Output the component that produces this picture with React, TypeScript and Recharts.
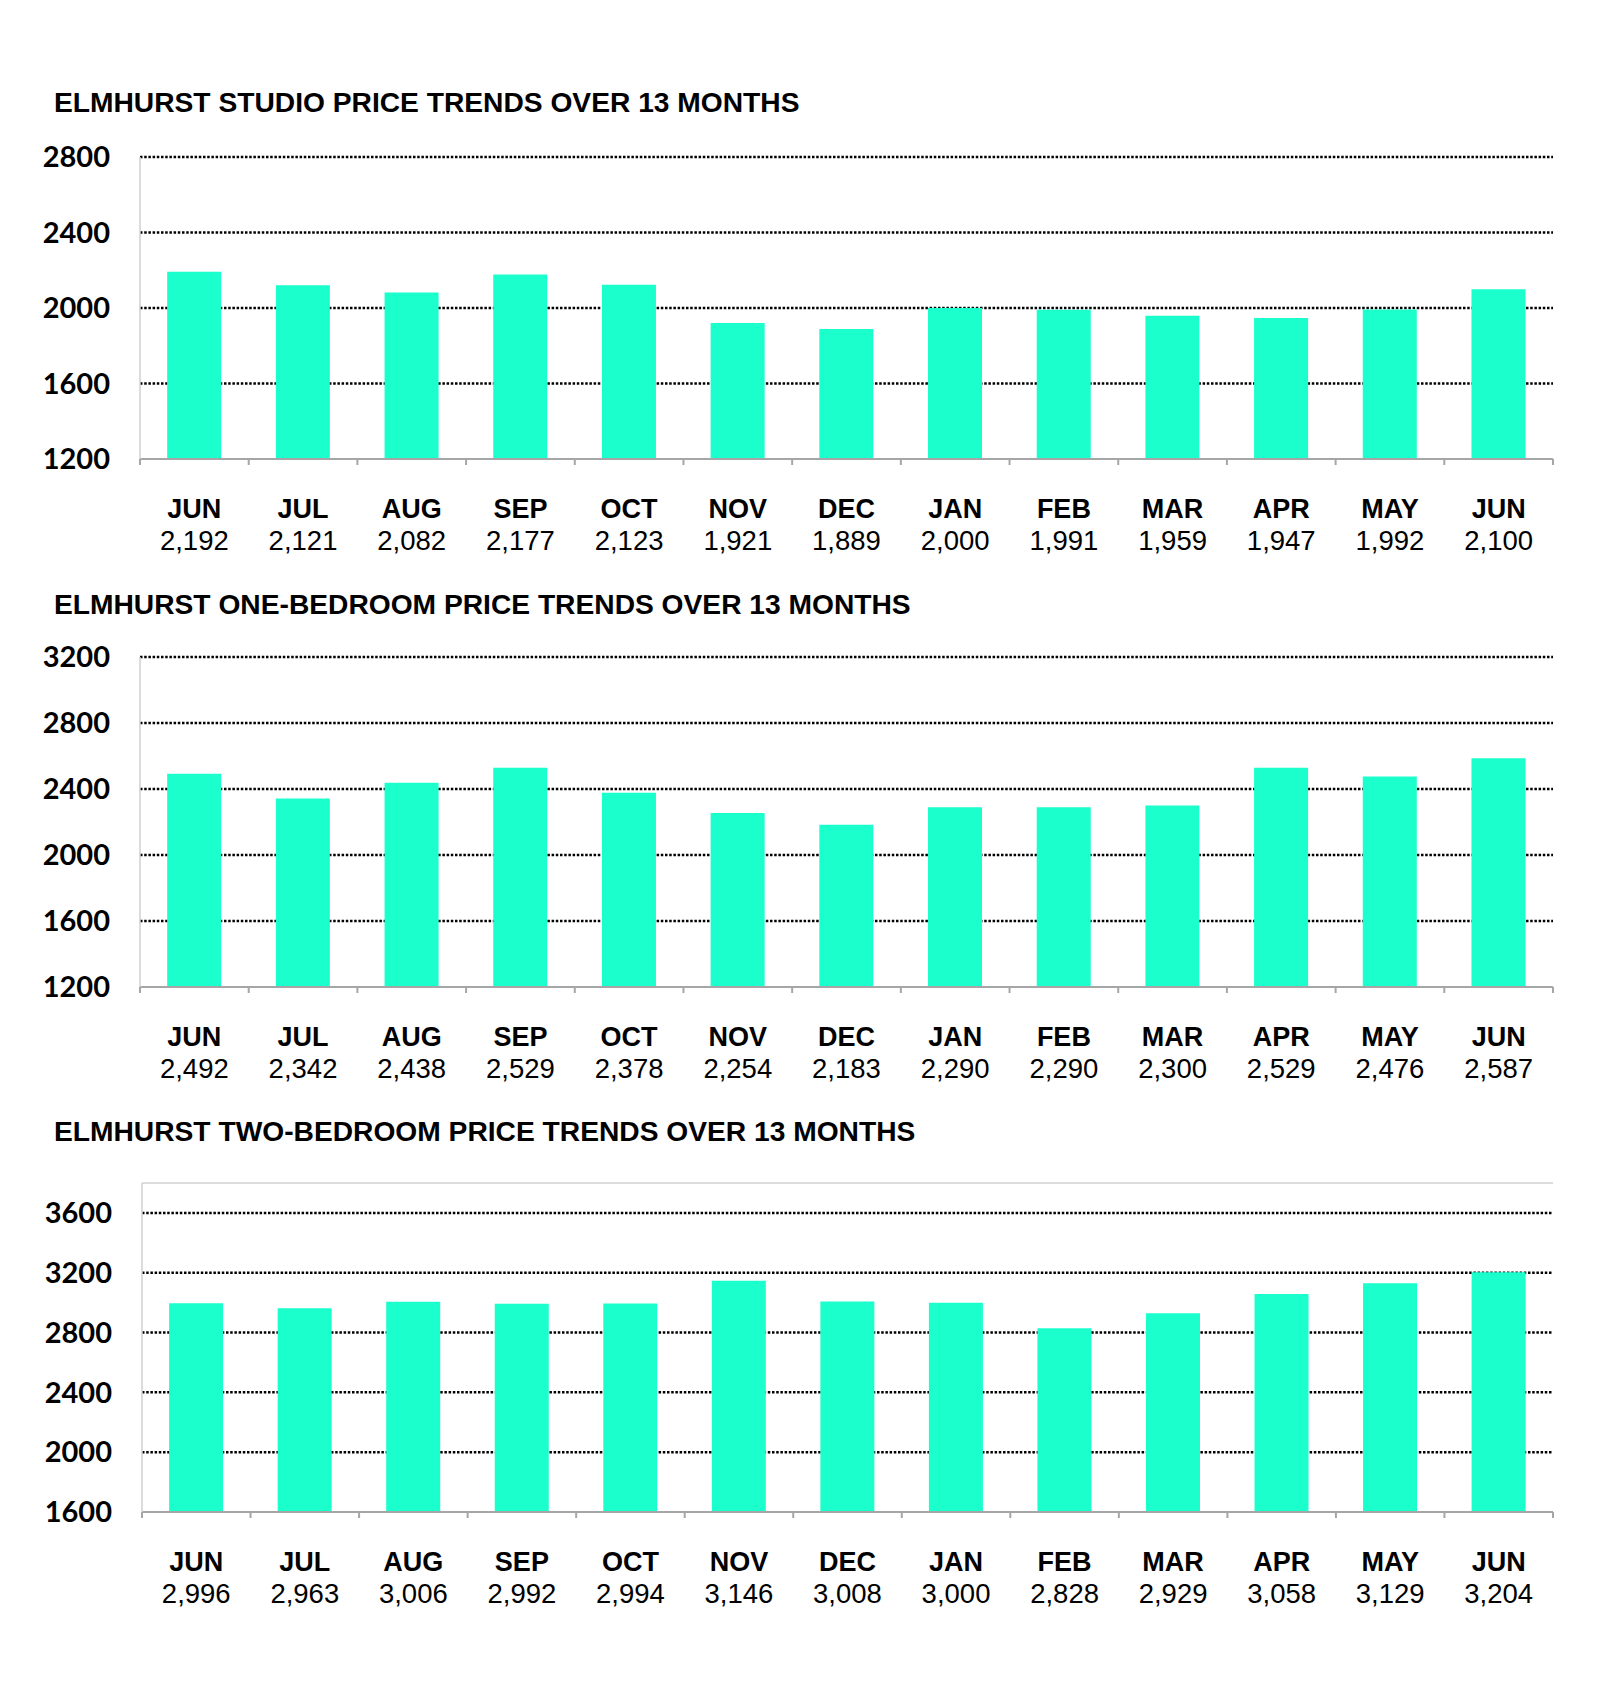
import React from 'react'
import { BarChart, Bar, XAxis, YAxis, CartesianGrid, ReferenceLine } from 'recharts'

const MONTHS = ['JUN', 'JUL', 'AUG', 'SEP', 'OCT', 'NOV', 'DEC', 'JAN', 'FEB', 'MAR', 'APR', 'MAY', 'JUN']

const STUDIO = [2192, 2121, 2082, 2177, 2123, 1921, 1889, 2000, 1991, 1959, 1947, 1992, 2100]
const ONE_BED = [2492, 2342, 2438, 2529, 2378, 2254, 2183, 2290, 2290, 2300, 2529, 2476, 2587]
const TWO_BED = [2996, 2963, 3006, 2992, 2994, 3146, 3008, 3000, 2828, 2929, 3058, 3129, 3204]

const STUDIO_TICKS = [1200, 1600, 2000, 2400, 2800]
const ONE_BED_TICKS = [1200, 1600, 2000, 2400, 2800, 3200]
const TWO_BED_TICKS = [1600, 2000, 2400, 2800, 3200, 3600]

const BAR_COLOR = '#1affcb'
const LABEL_FONT = '"Liberation Sans", Arial, sans-serif'
const NUM_FONT = 'Lato, "Open Sans", sans-serif'
const WIDTH = 1600
const RIGHT = 47

const styles: Record<string, React.CSSProperties> = {
  page: {
    position: 'absolute',
    left: 0,
    top: 0,
    width: WIDTH,
    height: 1692,
    background: '#fff'
  },
  title: {
    position: 'absolute',
    left: 54,
    fontFamily: LABEL_FONT,
    fontWeight: 700,
    fontSize: 28.2,
    color: '#000',
    whiteSpace: 'nowrap',
    lineHeight: '32px'
  }
}

function MonthTick(props: any) {
  const { x, y, index, values, bandW } = props
  const count = values.length
  const left = x - bandW / 2
  const right = x + bandW / 2
  return (
    <g>
      <line x1={left} y1={y} x2={left} y2={y + 6} stroke="#a6a6a6" strokeWidth={2} />
      {index === count - 1 && (
        <line x1={right} y1={y} x2={right} y2={y + 6} stroke="#a6a6a6" strokeWidth={2} />
      )}
      <text x={x} y={y + 59} textAnchor="middle" fontFamily={LABEL_FONT} fontWeight={700} fontSize={27} fill="#000">
        {MONTHS[index]}
      </text>
      <text x={x} y={y + 91} textAnchor="middle" fontFamily={LABEL_FONT} fontSize={27.5} fill="#000">
        {values[index].toLocaleString('en-US')}
      </text>
    </g>
  )
}

interface PanelProps {
  title: string
  titleTop: number
  top: number
  height: number
  marginTop: number
  axisW: number
  values: number[]
  ticks: number[]
  domainMax: number
  rightBorder?: boolean
  topBorder?: boolean
}

function Panel({ title, titleTop, top, height, marginTop, axisW, values, ticks, domainMax, rightBorder, topBorder }: PanelProps) {
  const data = values.map((v, i) => ({ key: `${MONTHS[i]}-${i}`, value: v }))
  const bandW = (WIDTH - axisW - RIGHT) / values.length
  return (
    <>
      <div style={{ ...styles.title, top: titleTop }}>{title}</div>
      <div style={{ position: 'absolute', left: 0, top }}>
        <BarChart
          width={WIDTH}
          height={height}
          data={data}
          margin={{ top: marginTop, right: RIGHT, bottom: 0, left: 0 }}
          barCategoryGap="25%"
        >
          <CartesianGrid
            vertical={false}
            horizontalValues={ticks.slice(1)}
            stroke="#000"
            strokeWidth={2.5}
            strokeDasharray="2.5 1.7"
          />
          <XAxis
            dataKey="key"
            height={101}
            interval={0}
            tickLine={false}
            tickSize={0}
            tickMargin={0}
            axisLine={{ stroke: '#a6a6a6', strokeWidth: 2 }}
            tick={(p: any) => <MonthTick {...p} values={values} bandW={bandW} />}
          />
          <YAxis
            width={axisW}
            domain={[ticks[0], domainMax]}
            ticks={ticks}
            allowDataOverflow
            tickLine={false}
            tickSize={0}
            tickMargin={30}
            axisLine={{ stroke: '#d0d0d0', strokeWidth: 1.5 }}
            tick={{ fontFamily: NUM_FONT, fontWeight: 700, fontSize: 29, fill: '#000' }}
          />
          {rightBorder && (
            <YAxis
              yAxisId="border"
              orientation="right"
              width={0}
              tick={false}
              tickLine={false}
              axisLine={{ stroke: '#d0d0d0', strokeWidth: 1.5 }}
            />
          )}
          {topBorder && <ReferenceLine y={domainMax} stroke="#d0d0d0" strokeWidth={1.5} />}
          <Bar dataKey="value" fill={BAR_COLOR} isAnimationActive={false} />
        </BarChart>
      </div>
    </>
  )
}

export default function App() {
  return (
    <div style={styles.page}>
      <Panel
        title="ELMHURST STUDIO PRICE TRENDS OVER 13 MONTHS"
        titleTop={86}
        top={130}
        height={430}
        marginTop={27}
        axisW={140}
        values={STUDIO}
        ticks={STUDIO_TICKS}
        domainMax={2800}
        rightBorder
      />
      <Panel
        title="ELMHURST ONE-BEDROOM PRICE TRENDS OVER 13 MONTHS"
        titleTop={588}
        top={630}
        height={458}
        marginTop={27}
        axisW={140}
        values={ONE_BED}
        ticks={ONE_BED_TICKS}
        domainMax={3200}
      />
      <Panel
        title="ELMHURST TWO-BEDROOM PRICE TRENDS OVER 13 MONTHS"
        titleTop={1115}
        top={1160}
        height={453}
        marginTop={23}
        axisW={142}
        values={TWO_BED}
        ticks={TWO_BED_TICKS}
        domainMax={3800}
        topBorder
      />
    </div>
  )
}
